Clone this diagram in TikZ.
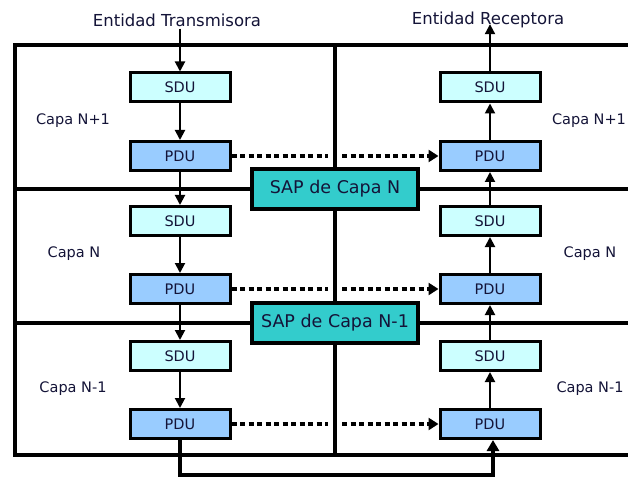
\documentclass[tikz,border=0pt]{standalone}
\usepackage{fontspec}
\setmainfont{DejaVu Sans}
\usetikzlibrary{arrows.meta,calc}
\definecolor{sducol}{HTML}{CCFFFF}
\definecolor{pducol}{HTML}{99CCFF}
\definecolor{sapcol}{HTML}{33CCCC}
\definecolor{txt}{HTML}{141438}
\begin{document}
\begin{tikzpicture}[x=1pt,y=-1pt,
 box/.style={draw=black, line width=3pt, minimum width=100pt, minimum height=29pt, inner sep=0pt, text=txt, font=\fontsize{14.5}{16}\selectfont},
 sdu/.style={box, fill=sducol},
 pdu/.style={box, fill=pducol},
 sap/.style={draw=black, line width=4pt, fill=sapcol, minimum width=166pt, minimum height=40pt, inner sep=0pt, text=txt, font=\fontsize{17.5}{20}\selectfont},
 lbl/.style={text=txt, font=\fontsize{14.5}{16}\selectfont},
 ent/.style={text=txt, font=\fontsize{16.5}{18}\selectfont, inner sep=2pt},
 frame/.style={line width=4pt},
 flow/.style={line width=2pt, -{Triangle[length=10pt,width=10pt]}},
 peer/.style={line width=3.5pt, dash pattern=on 5pt off 3.5pt, -{Triangle[length=10pt,width=12pt]}},
 halo/.style={line width=4pt, preaction={draw=white, line width=14pt}},
 link/.style={line width=4pt, line join=miter, -{Triangle[length=11pt,width=12pt]}}
]
\useasboundingbox (0,0) rectangle (628,478);
\fill[white] (0,0) rectangle (628,478);

% texts
\node[ent] (entT) at (177,20) {Entidad Transmisora};
\node[ent] (entR) at (488,20) {Entidad Receptora};

% boxes
\node[sdu] (sdu1l) at (180,87.5) {SDU};
\node[pdu] (pdu1l) at (180,156) {PDU};
\node[sdu] (sdu2l) at (180,221) {SDU};
\node[pdu] (pdu2l) at (180,289) {PDU};
\node[sdu] (sdu3l) at (180,356) {SDU};
\node[pdu] (pdu3l) at (180,424) {PDU};
\node[sdu] (sdu1r) at (490,87.5) {SDU};
\node[pdu] (pdu1r) at (490,156) {PDU};
\node[sdu] (sdu2r) at (490,221) {SDU};
\node[pdu] (pdu2r) at (490,289) {PDU};
\node[sdu] (sdu3r) at (490,356) {SDU};
\node[pdu] (pdu3r) at (490,424) {PDU};

% labels
\node[lbl] (l1) at (73,121) {Capa N+1};
\node[lbl] (l2) at (74,254) {Capa N};
\node[lbl] (l3) at (73,389) {Capa N-1};
\node[lbl] (r1) at (589,121) {Capa N+1};
\node[lbl] (r2) at (590,254) {Capa N};
\node[lbl] (r3) at (590,389) {Capa N-1};

% peer dotted arrows
\draw[peer] (pdu1l.east) -- (pdu1r.west);
\draw[peer] (pdu2l.east) -- (pdu2r.west);
\draw[peer] (pdu3l.east) -- (pdu3r.west);

% SAP nodes
\coordinate (topmid) at (335,45);
\coordinate (botmid) at (335,455);
\node[sap] (sapN) at (335,189) {SAP de Capa N};
\node[sap] (sapN1) at (335,323) {SAP de Capa N-1};

% middle vertical with white gap
\draw[halo] (topmid) -- (sapN.north);
\draw[halo] (sapN.south) -- (sapN1.north);
\draw[halo] (sapN1.south) -- (botmid);

% frame
\coordinate (tl) at (15,45);
\coordinate (tr) at (628,45);
\coordinate (bl) at (15,455);
\coordinate (br) at (628,455);
\coordinate (s1l) at (15,189);
\coordinate (s1r) at (628,189);
\coordinate (s2l) at (15,323);
\coordinate (s2r) at (628,323);
\draw[frame, line join=miter] (tr) -- (tl) -- (bl) -- (br);
\draw[frame] (s1l) -- (sapN.west);
\draw[frame] (sapN.east) -- (s1r);
\draw[frame] (s2l) -- (sapN1.west);
\draw[frame] (sapN1.east) -- (s2r);
% redraw SAP boxes on top
\node[sap] at (sapN) {SAP de Capa N};
\node[sap] at (sapN1) {SAP de Capa N-1};

% flows left (down)
\draw[flow] (sdu1l.north |- entT.south) -- (sdu1l.north);
\draw[flow] (sdu1l) -- (pdu1l);
\draw[flow] (pdu1l) -- (sdu2l);
\draw[flow] (sdu2l) -- (pdu2l);
\draw[flow] (pdu2l) -- (sdu3l);
\draw[flow] (sdu3l) -- (pdu3l);
% flows right (up)
\draw[flow] (pdu3r) -- (sdu3r);
\draw[flow] (sdu3r) -- (pdu2r);
\draw[flow] (pdu2r) -- (sdu2r);
\draw[flow] (sdu2r) -- (pdu1r);
\draw[flow] (pdu1r) -- (sdu1r);
\draw[flow] (sdu1r.north) -- ($(sdu1r.north |- entR.south)+(0,-6)$);

% physical link at bottom
\coordinate (bendL) at (180,475);
\coordinate (bendR) at (493,475);
\draw[link] (pdu3l.south) -- (bendL) -- (bendR) -- ($(pdu3r.south)+(3,0)$);
\end{tikzpicture}
\end{document}
